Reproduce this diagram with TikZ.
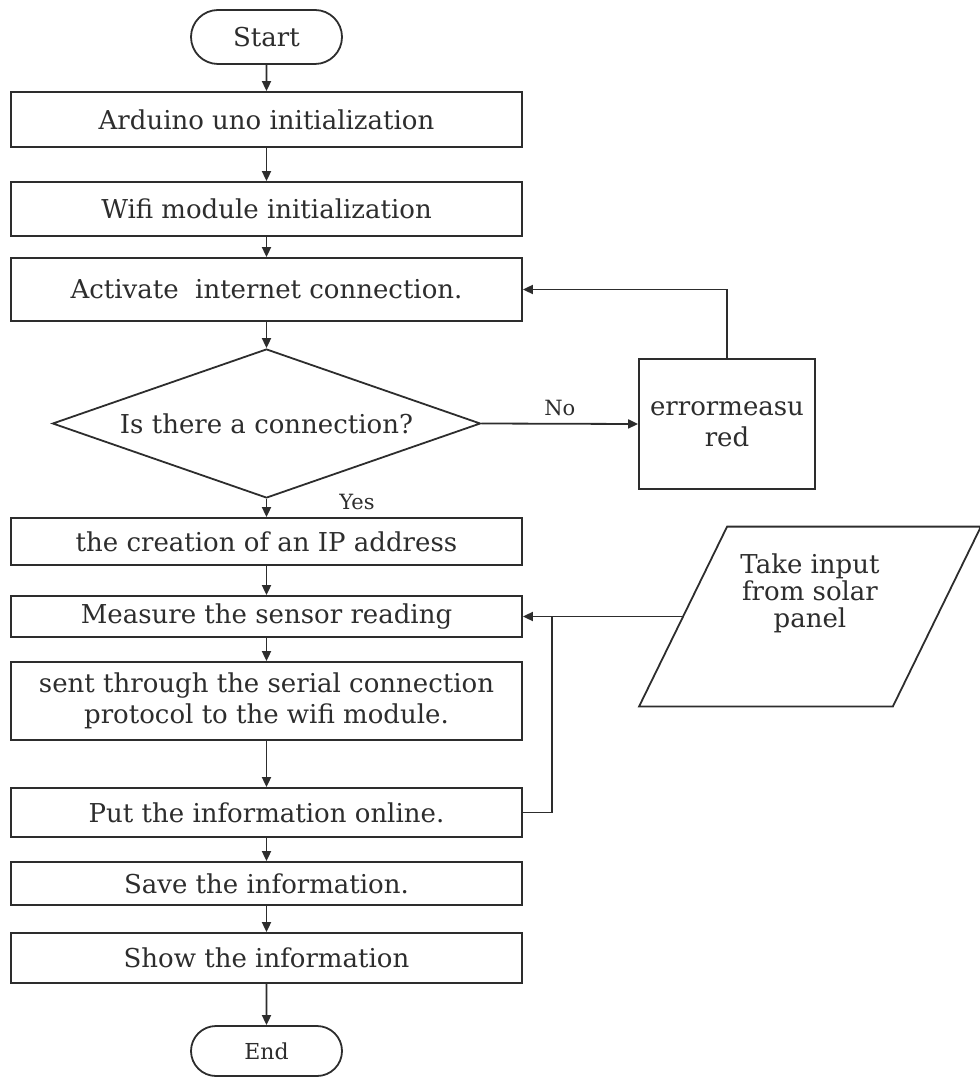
\documentclass[tikz,border=0pt]{standalone}
\usepackage{fontspec}
\setmainfont{DejaVu Serif}
\usetikzlibrary{shapes.geometric,shapes.misc,arrows.meta,positioning}
\definecolor{linegray}{RGB}{45,45,45}

\begin{document}
\begin{tikzpicture}[x=0.5pt, y=-0.5pt, color=linegray, line width=0.9pt,
    font=\fontsize{13}{15.5}\selectfont,
    term/.style={rounded rectangle, draw, minimum width=79.5pt, minimum height=27pt, inner sep=2pt},
    stepbox/.style={rectangle, draw, minimum width=255.5pt, inner sep=2pt, align=center},
    decide/.style={diamond, draw, aspect=2.87, minimum width=214pt, minimum height=74.5pt, inner sep=0pt},
    flow/.style={-{Triangle[length=5pt,width=4.5pt]}},
    lbl/.style={font=\fontsize{10.5}{12}\selectfont}]
  \useasboundingbox (0,0) rectangle (979,1079);
  % Main column
  \node[term] (start) at (266.5,37) {Start};
  \node[stepbox, minimum height=27.5pt] (arduino) at (266.5,119.5) {Arduino uno initialization};
  \node[stepbox, minimum height=27pt] (wifi) at (266.5,209) {Wifi module initialization};
  \node[stepbox, minimum height=31.5pt] (activate) at (266.5,289.5) {Activate\ \ internet connection.};
  \node[decide] (conn) at (266.5,423.5) {Is there a connection?};
  \node[stepbox, minimum height=23.5pt] (ip) at (266.5,541.5) {the creation of an IP address};
  \node[stepbox, minimum height=20.5pt] (measure) at (266.5,616.5) {Measure the sensor reading};
  \node[stepbox, minimum height=39pt] (sent) at (266.5,701) {sent through the serial connection\\protocol to the wifi module.};
  \node[stepbox, minimum height=24.5pt] (put) at (266.5,812.5) {Put the information online.};
  \node[stepbox, minimum height=21.5pt] (save) at (266.5,883.5) {Save the information.};
  \node[stepbox, minimum height=25pt] (show) at (266.5,958) {Show the information};
  \node[term, minimum height=25pt, font=\fontsize{11}{13}\selectfont] (end) at (266.5,1051) {End};
  % Side nodes
  \node[draw, minimum width=88pt, minimum height=65pt, align=center] (error) at (727,424) {errormeasu\\red};
  \node[minimum width=126pt, minimum height=89pt] (input) at (810,616.5) {};
  \draw ([xshift=-22pt]input.south west) -- ([xshift=22pt]input.north west)
    -- ([xshift=22pt]input.north east) -- ([xshift=-22pt]input.south east) -- cycle;
  \node[align=center, font=\fontsize{13}{13.5}\selectfont] (inputtext) at (810,593) {Take input\\from solar\\panel};
  \node[lbl] (yes) at (357,502) {Yes};
  \coordinate (jn) at (552,616.5);
  % Connectors
  \foreach \a/\b in {start/arduino, arduino/wifi, wifi/activate, activate/conn, conn/ip,
                     ip/measure, measure/sent, sent/put, put/save, save/show, show/end}
    \draw[flow] (\a) -- (\b);
  \draw[flow] (conn.east) -- (error.west) node[lbl, midway, above] {No};
  \draw[flow] (error.north) |- (activate.east);
  \draw[flow] (input.west) -- (measure.east);
  \draw (put.east) -| (jn);
\end{tikzpicture}
\end{document}
